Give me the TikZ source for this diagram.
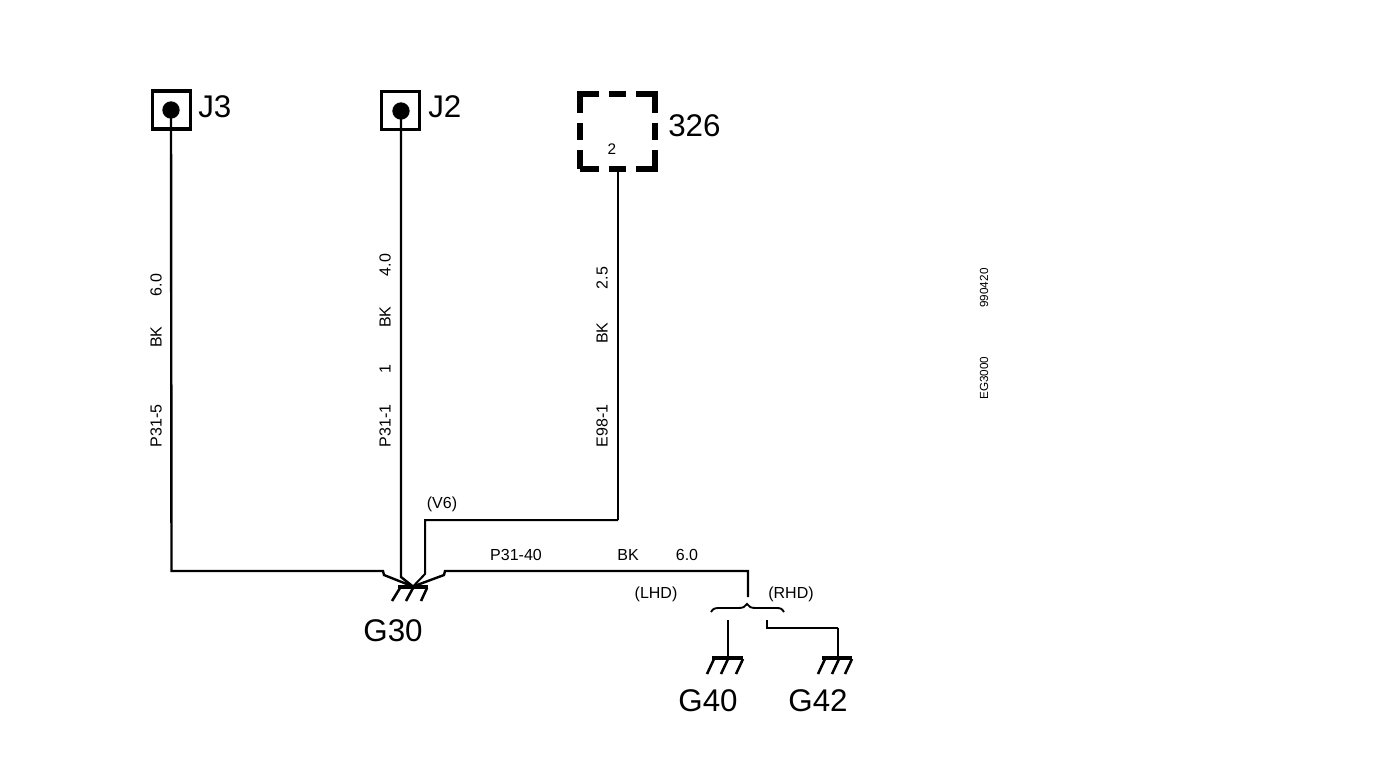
\documentclass[tikz,border=0pt]{standalone}
\usepackage{fontspec}
\setmainfont{Liberation Sans}
\begin{document}
\begin{tikzpicture}[x=.75pt,y=-.75pt,
  wire/.style={line width=1.8pt,line join=miter},
  thin wire/.style={line width=1.5pt,line join=miter},
  jbox/.style={draw,line width=2.5pt,minimum size=28.5pt,inner sep=0pt},
  jdot/.style={circle,fill=black,minimum size=13pt,inner sep=0pt},
  dashbox/.style={draw,line width=3.8pt,minimum size=56.25pt,inner sep=0pt,
    dash pattern=on 28.5pt off 7.5pt on 12.75pt off 7.5pt,dash phase=14.25pt},
  big/.style={inner sep=0pt,font=\fontsize{23.5}{25}\selectfont},
  mid/.style={inner sep=0pt,font=\fontsize{23.5}{25}\selectfont},
  jlabel/.style={inner sep=0pt,font=\fontsize{23.5}{25}\selectfont},
  small/.style={inner sep=0pt,font=\fontsize{12}{14}\selectfont},
  vsmall/.style={small,rotate=90},
  tiny/.style={inner sep=0pt,rotate=90,font=\fontsize{8.8}{10}\selectfont},
  gbar/.style={line width=3.3pt},
  hatch/.style={line width=1.9pt}]
\useasboundingbox (0,0) rectangle (1392,776);
\node[jbox] (j3) at (171.5,110) {};
\node[jdot] (d3) at (171,110) {};
\node[jlabel,anchor=west] (j3t) at (198,107) {J3};
\node[jbox] (j2) at (400.5,110.5) {};
\node[jdot] (d2) at (401,111) {};
\node[jlabel,anchor=west] (j2t) at (428,107) {J2};
\node[dashbox] (u326) at (617.5,131.5) {};
\node[small,font=\fontsize{11.5}{14}\selectfont] (pin2) at (612,149) {2};
\node[mid,anchor=west] (t326) at (668,126) {326};
\coordinate (g30) at (413,586.5);
\coordinate (g40) at (728,658);
\coordinate (g42) at (838,658);
\draw[wire] (d3.center) -- (171.5,571) -- (383,571) -- (384,575) -- (g30);
\draw[wire] (d2.center) -- (401,577) -- (g30);
\draw[wire] (u326.south -| 618,0) -- (618,520);
\draw[thin wire] (618,520) -- (425,520) -- (425,574) -- (g30);
\draw[wire] (748,597) -- (748,571) -- (445,571) -- (444,575) -- (g30);
\draw[wire] (728,620) -- (g40);
\draw[thin wire] (767,620) -- (767,628) -- (838,628);
\draw[wire] (838,627.5) -- (g42);
\draw[line width=1.4pt] (711,612) .. controls (713,608) and (716,608) .. (720,608)
  -- (738,608) .. controls (743,608) and (745,607) .. (747,604)
  .. controls (749,607) and (751,608) .. (756,608) -- (777,608)
  .. controls (781,608) and (782,609) .. (784,612);
\draw[gbar] (398,587) -- (428,587);
\draw[hatch] (400,588) -- (392,601) (413,588) -- (406,601) (427,588) -- (421,601);
\draw[gbar] (712,658) -- (743,658);
\draw[hatch] (714,659) -- (707,674) (728,659) -- (721,674) (743,659) -- (736,674);
\draw[gbar] (822,658) -- (852,658);
\draw[hatch] (825,659) -- (818,674) (839,659) -- (832,674) (852,659) -- (845,674);
\node[big] (g30t) at (393,631) {G30};
\node[big] (g40t) at (708,701) {G40};
\node[big] (g42t) at (818,701) {G42};
\node[small] (v6) at (442,504) {(V6)};
\node[small] (p3140) at (516,555) {P31-40};
\node[small] (bkh) at (628,555) {BK};
\node[small] (s60h) at (687,555) {6.0};
\node[small] (lhd) at (656,594) {(LHD)};
\node[small] (rhd) at (791,594) {(RHD)};
\node[vsmall] (a1) at (156,285) {6.0};
\node[vsmall] (a2) at (156,337) {BK};
\node[vsmall] (a3) at (156,426) {P31-5};
\node[vsmall] (b1) at (385,265) {4.0};
\node[vsmall] (b2) at (385,317) {BK};
\node[vsmall] (b3) at (385,369) {1};
\node[vsmall] (b4) at (385,426) {P31-1};
\node[vsmall] (c1) at (602,278) {2.5};
\node[vsmall] (c2) at (602,333) {BK};
\node[vsmall] (c3) at (602,426) {E98-1};
\node[tiny] (d) at (984,288) {990420};
\node[tiny] (e) at (984,378) {EG3000};
\end{tikzpicture}
\end{document}
